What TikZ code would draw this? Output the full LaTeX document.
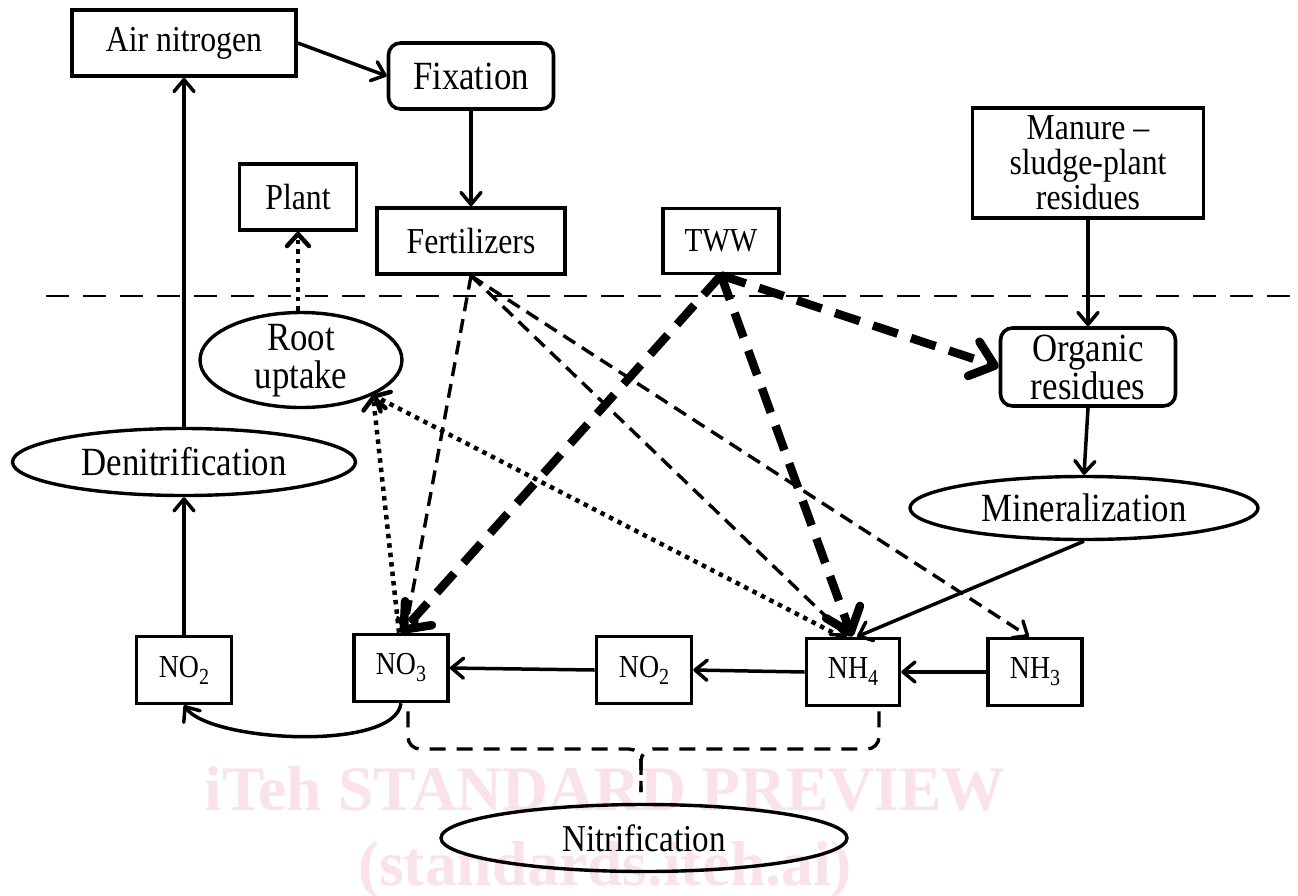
\documentclass[tikz,border=0pt]{standalone}
\usepackage{fontspec}
\setmainfont[FakeStretch=0.87]{Liberation Serif}
\newfontfamily\wmfont{Liberation Serif}
\usetikzlibrary{arrows.meta,shapes.geometric}
\definecolor{wmpink}{RGB}{250,226,233}
\newcommand\sbs[1]{\raisebox{-7pt}{\fontsize{23}{23}\selectfont #1}}
\tikzset{
  box/.style={draw, line width=3.6pt, rectangle, inner sep=0pt, align=center},
  rbox/.style={box, rounded corners=12pt},
  ell/.style={draw, line width=3.4pt, ellipse, inner sep=0pt, align=center},
  fa/.style={font=\fontsize{36.5}{35}\selectfont},
  fb/.style={font=\fontsize{40}{38}\selectfont},
  fc/.style={font=\fontsize{32}{32}\selectfont},
  arr/.style={line width=3.5pt, -{Straight Barb[round,length=12pt,width=20pt]}},
  tdash/.style={line width=3.4pt, dash pattern=on 14pt off 8pt, -{Straight Barb[round,length=12pt,width=20pt]}},
  kdash/.style={line width=8.5pt, dash pattern=on 26pt off 14pt, -{Straight Barb[round,length=22pt,width=36pt]}},
  dotl/.style={line width=4.5pt, dash pattern=on 4.5pt off 5pt, -{Straight Barb[round,length=12pt,width=22pt]}},
  sepline/.style={line width=2.6pt, dash pattern=on 23pt off 14pt},
  bracel/.style={line width=3.4pt, dash pattern=on 16pt off 11pt, rounded corners=12pt},
  wmtext/.style={text=wmpink, font=\wmfont\bfseries\fontsize{63.5}{63.5}\selectfont, anchor=base},
}
\begin{document}
\begin{tikzpicture}[x=1pt,y=-1pt]
\useasboundingbox (0,0) rectangle (1298,895);
\fill[white] (0,0) rectangle (1298,895);
% watermark
\node[wmtext] (wm1) at (605,810) {iTeh STANDARD PREVIEW};
\node[wmtext] (wm2) at (605,885) {(standards.iteh.ai)};

% nodes
\node[box,fa,minimum width=224pt,minimum height=66pt] (air) at (184,43) {Air nitrogen};
\node[rbox,fb,minimum width=165pt,minimum height=66pt] (fix) at (471,76) {Fixation};
\node[box,fa,minimum width=117pt,minimum height=66pt] (plant) at (298,197) {Plant};
\node[box,fa,minimum width=188pt,minimum height=66pt] (fert) at (471,241) {Fertilizers};
\node[box,font=\fontsize{33.5}{33}\selectfont,minimum width=116pt,minimum height=65pt] (tww) at (721,241) {TWW};
\node[box,fa,minimum width=231pt,minimum height=110pt] (manure) at (1088,163) {Manure –\\sludge-plant\\residues};
\node[rbox,fb,minimum width=175pt,minimum height=78pt] (organic) at (1088,367) {Organic\\residues};
\node[ell,minimum width=202pt,minimum height=95pt] (root) at (301,360) {};
\node[fb,align=center,inner sep=0pt] (rootl) at (301,361) {Root\\uptake};
\node[ell,fb,minimum width=343pt,minimum height=67pt] (denit) at (184,462) {Denitrification};
\node[ell,fb,minimum width=348pt,minimum height=63pt] (mineral) at (1084,508) {Mineralization};
\node[box,fc,minimum width=95pt,minimum height=67pt] (no2a) at (184,670) {NO\sbs{2}};
\node[box,fc,minimum width=94pt,minimum height=67pt] (no3) at (401,668) {NO\sbs{3}};
\node[box,fc,minimum width=95pt,minimum height=67pt] (no2b) at (644,670) {NO\sbs{2}};
\node[box,fc,minimum width=93pt,minimum height=67pt] (nh4) at (853,672) {NH\sbs{4}};
\node[box,fc,minimum width=94pt,minimum height=67pt] (nh3) at (1035,672) {NH\sbs{3}};
\node[ell,font=\fontsize{38}{37}\selectfont,minimum width=406pt,minimum height=67pt] (nitr) at (644,838) {Nitrification};

% separator
\coordinate (sl) at (46,296);
\coordinate (sr) at (1296,296);
\draw[sepline] (sl) -- (sr);

% solid arrows
\draw[arr] (air.east) -- (fix.west);
\draw[arr] (fix.south) -- (fert.north);
\draw[arr] (denit.north) -- (air.south);
\draw[arr] (no2a.north) -- (denit.south);
\draw[arr] (manure.south) -- (organic.north);
\draw[arr] (organic.south) -- (mineral.north);
\draw[arr] (mineral.south) -- ([xshift=4pt]nh4.north);
\draw[arr] (nh3.west) -- (nh4.east);
\draw[arr] (nh4.west) -- (no2b.east);
\draw[arr] (no2b.west) -- (no3.east);
\draw[arr] (no3.south) .. controls (395,752) and (210,742) .. (no2a.south);

% fertilizer dashed
\draw[tdash] (fert.south) -- ([xshift=4pt]no3.north);
\draw[tdash] (fert.south) -- ([xshift=-6pt]nh4.north);
\draw[tdash] (fert.south) -- ([xshift=-6pt]nh3.north);

% dotted
\draw[dotl] (plant.south |- root.north) -- (plant.south);
\draw[dotl] ([xshift=-2pt]no3.north) -- (root.-26);
\draw[dotl] ([xshift=-12pt]nh4.north) -- (root.-26);

% TWW thick dashed
\draw[kdash] (tww.south) -- (no3.north);
\draw[kdash] (tww.south) -- ([xshift=-1pt]nh4.north);
\draw[kdash] (tww.south) -- (organic.west);

% brace
\coordinate (bm) at (641,749);
\coordinate (bt) at (641,792);
\draw[bracel] ([xshift=7pt]no3.south) ++(0,8) |- (bm) -- (bt);
\draw[bracel] ([xshift=26pt]nh4.south) ++(0,4) |- (bm) -- (bt);
\end{tikzpicture}
\end{document}
